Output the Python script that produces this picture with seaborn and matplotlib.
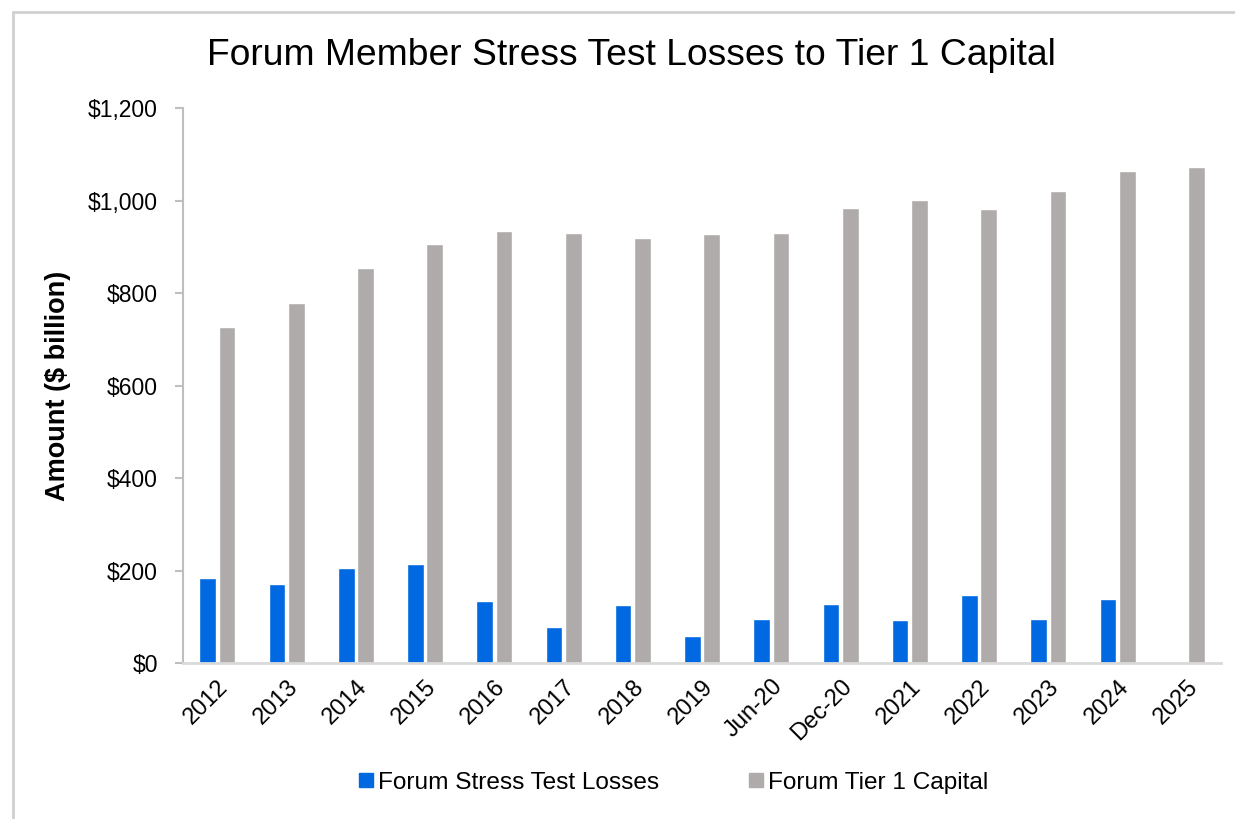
import pandas as pd
import seaborn as sns
from matplotlib import pyplot as plt
from matplotlib.lines import Line2D
from matplotlib.ticker import FuncFormatter


PERIODS = ["2012", "2013", "2014", "2015", "2016", "2017", "2018", "2019",
           "Jun-20", "Dec-20", "2021", "2022", "2023", "2024", "2025"]
STRESS_LOSSES = [183, 171, 206, 215, 134, 77, 126, 58, 96, 128, 92, 148, 96, 138, None]
TIER1_CAPITAL = [727, 779, 855, 907, 935, 930, 920, 928, 930, 985, 1001, 981, 1021, 1063, 1072]
SERIES = ["Forum Stress Test Losses", "Forum Tier 1 Capital"]
COLORS = ["#0068e0", "#afabab"]


def build_frame() -> pd.DataFrame:
    rows = []
    for name, vals in zip(SERIES, [STRESS_LOSSES, TIER1_CAPITAL]):
        for period, v in zip(PERIODS, vals):
            rows.append({"period": period, "series": name, "amount": v})
    return pd.DataFrame(rows)


def main():
    df = build_frame()
    sns.set_theme(style="white")
    plt.rcParams["font.family"] = ["Liberation Sans", "DejaVu Sans"]
    plt.rcParams.update({"text.color": "black", "axes.labelcolor": "black",
                         "xtick.color": "black", "ytick.color": "black"})

    fig = plt.figure(figsize=(12.35, 8.19), dpi=100)
    ax = fig.add_axes([0.148, 0.1905, 0.841, 0.6775])

    sns.barplot(df, x="period", y="amount", hue="series", order=PERIODS,
                hue_order=SERIES, palette=COLORS, width=0.56, gap=0.14,
                saturation=1, ax=ax, legend=False)

    ax.set_ylim(0, 1200)
    ax.set_yticks(range(0, 1201, 200))
    ax.yaxis.set_major_formatter(FuncFormatter(lambda v, _: f"${v:,.0f}"))
    ax.set_xlim(-0.5, len(PERIODS) - 0.5)
    ax.set_xlabel("")
    ax.set_ylabel("Amount ($ billion)", fontsize=19.5, fontweight="bold", labelpad=12)

    for side in ["top", "right"]:
        ax.spines[side].set_visible(False)
    ax.spines["left"].set_color("#bfbfbf")
    ax.spines["bottom"].set_color("#d9d9d9")
    ax.spines["left"].set_linewidth(1.5)
    ax.spines["bottom"].set_linewidth(2)
    ax.tick_params(axis="y", left=True, length=6, width=1.5, color="#bfbfbf",
                   labelsize=16.5, pad=12, labelcolor="black")
    ax.tick_params(axis="x", bottom=False, labelsize=17, pad=3, labelcolor="black")
    for lbl in ax.get_xticklabels():
        lbl.set_rotation(45)
        lbl.set_ha("right")
        lbl.set_rotation_mode("anchor")

    fig.text(0.511, 0.932, "Forum Member Stress Test Losses to Tier 1 Capital",
             ha="center", va="center", fontsize=26.8, color="black")

    handles = [Line2D([], [], marker="s", linestyle="", markersize=9.5,
                      markerfacecolor=c, markeredgecolor=c) for c in COLORS]
    fig.legend(handles, SERIES, loc="center", bbox_to_anchor=(0.545, 0.044),
               ncol=2, frameon=False, fontsize=17.6, columnspacing=3.6,
               handletextpad=0.15, handlelength=0.7, labelcolor="black")

    # outer frame of the screenshot
    fig.add_artist(Line2D([0.0105, 0.0105], [0, 0.985], transform=fig.transFigure,
                          color="#d0d0d0", linewidth=2))
    fig.add_artist(Line2D([0.0105, 1.0], [0.985, 0.985], transform=fig.transFigure,
                          color="#d0d0d0", linewidth=2))

    fig.savefig("out.png", dpi=100)
    plt.close(fig)


if __name__ == "__main__":
    main()
